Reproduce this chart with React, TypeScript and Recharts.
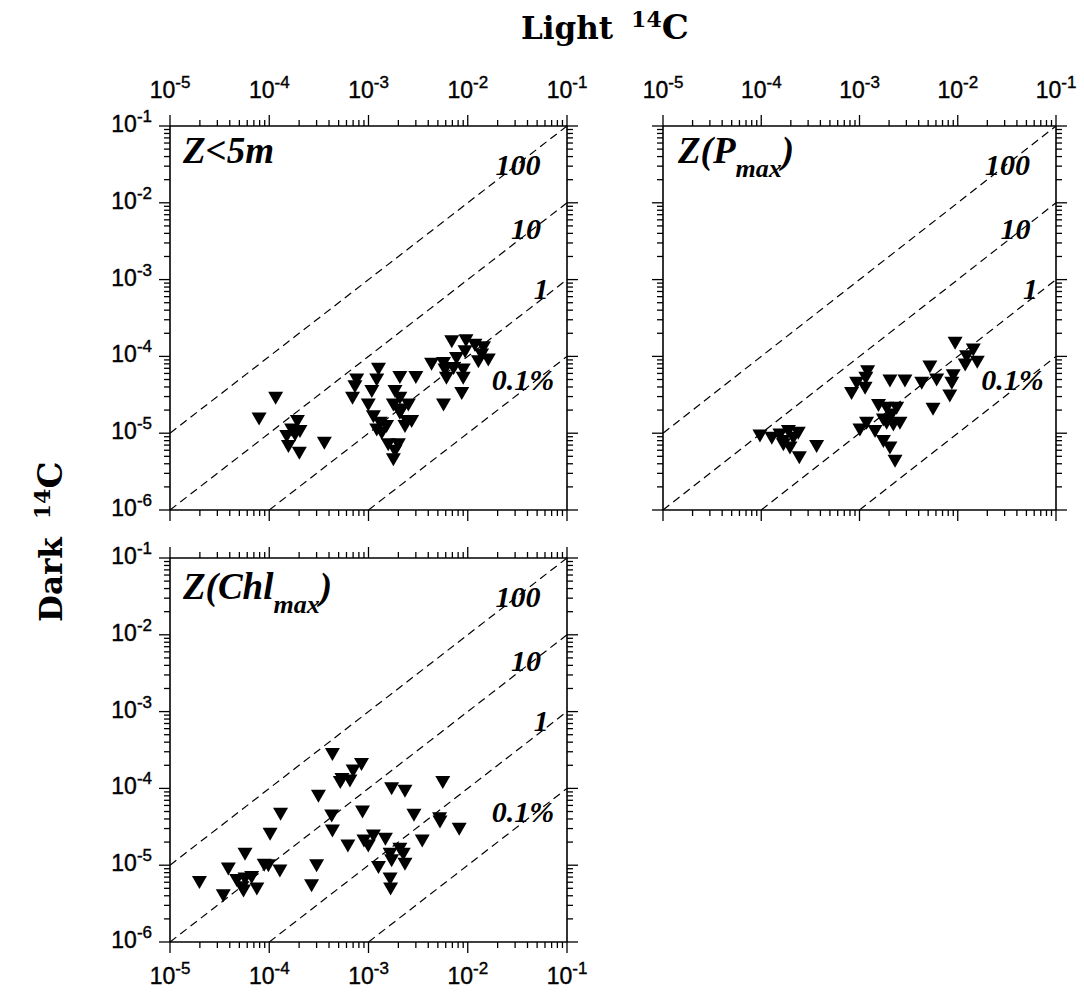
import React from 'react';
import { ScatterChart, Scatter, XAxis, YAxis, ReferenceLine, ReferenceDot } from 'recharts';

// Z<5m : light vs dark 14C uptake
const surfLight = [
  1.16e-4, 7.9e-5, 1.92e-4, 1.68e-4, 2.04e-4, 1.5e-4, 1.56e-4, 2.01e-4, 3.59e-4, 1.82e-4,
  7.6e-4, 7.3e-4, 1.26e-3, 1.21e-3, 2.07e-3, 3.0e-3, 6.9e-4, 1.08e-3, 9.95e-4, 1.85e-3,
  2.07e-3, 1.78e-3, 2.52e-3, 1.12e-3, 1.31e-3, 1.52e-3, 1.21e-3, 2.07e-3, 2.43e-3, 2.72e-3,
  2.33e-3, 1.36e-3, 1.58e-3, 2.0e-3, 1.78e-3, 1.85e-3, 2.16e-3, 4.32e-3, 5.7e-3, 6.9e-3,
  9.6e-3, 1.18e-2, 1.44e-2, 1.38e-2, 9.4e-3, 7.7e-3, 1.61e-2, 1.28e-2, 5.9e-3, 6.1e-3,
  9.0e-3, 9.0e-3, 8.7e-3, 5.7e-3, 7.2e-3,
];
const surfDark = [
  2.85e-5, 1.53e-5, 1.42e-5, 1.1e-5, 1.05e-5, 9.05e-6, 6.7e-6, 5.5e-6, 7.4e-6, 9.5e-6,
  4.93e-5, 4.04e-5, 6.8e-5, 4.93e-5, 5.3e-5, 5.3e-5, 2.85e-5, 3.48e-5, 2.33e-5, 3.48e-5,
  2.85e-5, 2.33e-5, 2.33e-5, 1.64e-5, 1.35e-5, 1.22e-5, 1.1e-5, 1.82e-5, 1.42e-5, 1.42e-5,
  1.22e-5, 1.0e-5, 7.05e-6, 7.05e-6, 4.5e-6, 5.8e-6, 2.01e-5, 7.9e-5, 8.1e-5, 1.55e-4,
  1.6e-4, 1.4e-4, 1.3e-4, 1.04e-4, 1.15e-4, 9.4e-5, 8.95e-5, 8.5e-5, 6.65e-5, 5.2e-5,
  6.65e-5, 5.2e-5, 3.3e-5, 2.33e-5, 6.98e-5,
];

// Z(Pmax)
const pmaxLight = [
  9.7e-5, 1.28e-4, 1.65e-4, 1.89e-4, 2.38e-4, 1.68e-4, 1.96e-4, 1.55e-4, 3.66e-4, 2.44e-4,
  2.12e-4, 1.21e-3, 1.16e-3, 9.35e-4, 1.14e-3, 8.3e-4, 2.04e-3, 2.9e-3, 4.3e-3, 5.2e-3,
  6.1e-3, 9.0e-3, 8.7e-3, 8.3e-3, 5.6e-3, 9.4e-3, 1.44e-2, 1.23e-2, 1.19e-2, 1.58e-2,
  1.56e-3, 1.89e-3, 2.39e-3, 2.12e-3, 1.75e-3, 2.58e-3, 2.21e-3, 1.18e-3, 1.01e-3, 1.44e-3,
  1.75e-3, 2.04e-3, 2.3e-3, 1.89e-3,
];
const pmaxDark = [
  9.2e-6, 8.6e-6, 7.8e-6, 1.05e-5, 1.0e-5, 7.05e-6, 6.4e-6, 9.5e-6, 6.7e-6, 4.8e-6,
  8.6e-6, 6.3e-5, 5.2e-5, 4.46e-5, 3.84e-5, 3.3e-5, 4.79e-5, 4.79e-5, 4.46e-5, 7.3e-5,
  4.93e-5, 5.6e-5, 4.46e-5, 3.05e-5, 2.05e-5, 1.48e-4, 1.21e-4, 9.9e-5, 7.7e-5, 8.4e-5,
  2.29e-5, 2.11e-5, 2.11e-5, 1.73e-5, 1.49e-5, 1.35e-5, 1.28e-5, 1.35e-5, 1.1e-5, 1.05e-5,
  7.8e-6, 6.4e-6, 4.3e-6, 1.35e-5,
];

// Z(Chlmax)
const chlLight = [
  4.33e-4, 8.5e-4, 7.0e-4, 5.4e-4, 6.5e-4, 5.2e-4, 3.13e-4, 1.71e-3, 2.33e-3, 5.6e-3,
  1.3e-4, 4.26e-4, 8.7e-4, 2.87e-3, 5.2e-3, 5.25e-3, 1.02e-4, 4.33e-4, 6.2e-4, 9.0e-4,
  1.12e-3, 1.48e-3, 9.95e-4, 3.48e-3, 8.2e-3, 5.7e-5, 3.87e-5, 8.9e-5, 9.8e-5, 1.28e-4,
  3.0e-4, 1.98e-5, 3.44e-5, 4.7e-5, 5.7e-5, 6.65e-5, 5.3e-5, 5.5e-5, 7.5e-5, 2.67e-4,
  1.65e-3, 2.07e-3, 2.24e-3, 1.71e-3, 2.33e-3, 1.26e-3, 1.65e-3, 1.67e-3,
];
const chlDark = [
  2.77e-4, 2.05e-4, 1.68e-4, 1.31e-4, 1.25e-4, 1.19e-4, 7.9e-5, 9.9e-5, 9.2e-5, 1.19e-4,
  4.6e-5, 4.37e-5, 4.93e-5, 4.46e-5, 4.04e-5, 3.65e-5, 2.53e-5, 2.79e-5, 1.78e-5, 2.07e-5,
  2.4e-5, 2.18e-5, 1.78e-5, 2.07e-5, 2.94e-5, 1.39e-5, 8.9e-6, 1.0e-5, 9.8e-6, 8.4e-6,
  9.8e-6, 5.96e-6, 4.0e-6, 6.3e-6, 6.6e-6, 6.9e-6, 5.1e-6, 4.6e-6, 4.9e-6, 5.4e-6,
  1.39e-5, 1.61e-5, 1.39e-5, 1.14e-5, 1.03e-5, 9.3e-6, 6.6e-6, 4.9e-6,
];

// dark/light ratio lines (%), and where their labels sit
const ratioPct = [100, 10, 1, 0.1];
const ratioText = ['100', '10', '1', '0.1%'];
const ratioLabelLight = [3.2e-2, 3.86e-2, 5.5e-2, 3.6e-2];
const ratioLabelDark = [3.1e-2, 4.6e-3, 7.6e-4, 4.9e-5];

const xMajor = [1e-5, 1e-4, 1e-3, 1e-2, 1e-1];
const yMajor = [1e-6, 1e-5, 1e-4, 1e-3, 1e-2, 1e-1];

const withMinors = (majors: number[]) => {
  const out: number[] = [];
  majors.forEach((m, i) => {
    out.push(m);
    if (i < majors.length - 1) for (let k = 2; k <= 9; k++) out.push(m * k);
  });
  return out;
};
const xTicks = withMinors(xMajor);
const yTicks = withMinors(yMajor);
const xDomain = [xMajor[0], xMajor[xMajor.length - 1]];
const yDomain = [yMajor[0], yMajor[yMajor.length - 1]];

const ML = 80, MT = 60, MR = 30, MB = 60;
const PLOT_H = 384;
const SANS = '"Liberation Sans", Arial, Helvetica, sans-serif';
const SERIF = '"Liberation Serif", "Times New Roman", serif';
const WIDE_SERIF = '"DejaVu Serif", serif';

const PowLabel = ({ v, ...rest }: any) => {
  const e = Math.round(Math.log10(v));
  return (
    <text fontFamily={SANS} fontSize={23} fill="#000" stroke="#000" strokeWidth={0.4} {...rest}>
      10<tspan dy={-10} fontSize={17}>{e}</tspan>
    </text>
  );
};

const makeTick = (side: string, showLabel: boolean) => (props: any) => {
  const { x, y, payload } = props;
  const v = payload.value;
  const e = Math.log10(v);
  const major = Math.abs(e - Math.round(e)) < 1e-6;
  const len = major ? 11 : 6;
  let line = null;
  let label = null;
  if (side === 'top') {
    line = <line x1={x} y1={y} x2={x} y2={y - len} />;
    if (showLabel && major) label = <PowLabel v={v} x={x} y={y - 28} textAnchor="middle" />;
  } else if (side === 'bottom') {
    line = <line x1={x} y1={y} x2={x} y2={y + len} />;
    if (showLabel && major) label = <PowLabel v={v} x={x} y={y + 42} textAnchor="middle" />;
  } else if (side === 'left') {
    line = <line x1={x} y1={y} x2={x - len} y2={y} />;
    if (showLabel && major) label = <PowLabel v={v} x={x - 18} y={y + 6} textAnchor="end" />;
  } else {
    line = <line x1={x} y1={y} x2={x + len} y2={y} />;
  }
  return (
    <g>
      <g stroke="#000" strokeWidth={1.3}>{line}</g>
      {label}
    </g>
  );
};

const DownTriangle = (props: any) => {
  const { cx, cy } = props;
  if (cx == null || cy == null) return null;
  return <path d={`M${cx - 7.5},${cy - 6.5}L${cx + 7.5},${cy - 6.5}L${cx},${cy + 6.5}Z`} fill="#000" />;
};

const axisLine = { stroke: '#000', strokeWidth: 1.6 };

type PanelProps = {
  left: number;
  top: number;
  width: number;
  light: number[];
  dark: number[];
  xLabelSide: 'top' | 'bottom';
  yLabels: boolean;
};

function Panel({ left, top, width, light, dark, xLabelSide, yLabels }: PanelProps) {
  const data = light.map((x, i) => ({ x, y: dark[i] }));
  const common = {
    type: 'number' as const,
    scale: 'log' as const,
    allowDataOverflow: true,
    interval: 0 as const,
    tickSize: 0,
    tickMargin: 0,
    tickLine: false,
    axisLine,
  };
  // axes are 1px thick, so the margins are 1px smaller to keep the plot box in place
  return (
    <div style={{ position: 'absolute', left: left - ML, top: top - MT }}>
      <ScatterChart
        width={width + ML + MR}
        height={PLOT_H + MT + MB}
        margin={{ top: MT - 1, right: MR - 1, bottom: MB - 1, left: ML - 1 }}
      >
        <XAxis {...common} xAxisId="b" dataKey="x" domain={xDomain} ticks={xTicks} orientation="bottom" height={1}
          tick={makeTick('bottom', xLabelSide === 'bottom')} />
        <XAxis {...common} xAxisId="t" dataKey="x" domain={xDomain} ticks={xTicks} orientation="top" height={1}
          tick={makeTick('top', xLabelSide === 'top')} />
        <YAxis {...common} yAxisId="l" dataKey="y" domain={yDomain} ticks={yTicks} orientation="left" width={1}
          tick={makeTick('left', yLabels)} />
        <YAxis {...common} yAxisId="r" dataKey="y" domain={yDomain} ticks={yTicks} orientation="right" width={1}
          tick={makeTick('right', false)} />
        {ratioPct.map((p) => {
          const r = p / 100;
          const x0 = Math.max(xDomain[0], yDomain[0] / r);
          return (
            <ReferenceLine
              key={p}
              xAxisId="b"
              yAxisId="l"
              segment={[{ x: x0, y: x0 * r }, { x: xDomain[1], y: xDomain[1] * r }]}
              stroke="#000"
              strokeWidth={1.2}
              strokeDasharray="8 5"
              ifOverflow="visible"
            />
          );
        })}
        {ratioText.map((t, i) => (
          <ReferenceDot
            key={t}
            xAxisId="b"
            yAxisId="l"
            x={ratioLabelLight[i]}
            y={ratioLabelDark[i]}
            r={0}
            ifOverflow="visible"
            shape={(p: any) => (
              <text x={p.cx} y={p.cy + 10} textAnchor="middle" fontFamily={SERIF} fontStyle="italic"
                fontWeight="bold" fontSize={30} fill="#000">{t}</text>
            )}
          />
        ))}
        <Scatter xAxisId="b" yAxisId="l" data={data} shape={DownTriangle} isAnimationActive={false} />
      </ScatterChart>
    </div>
  );
}

export default function App() {
  const labelStyle = { fontFamily: SERIF, fontStyle: 'italic', fontWeight: 'bold' } as const;
  return (
    <div style={{ position: 'absolute', left: 0, top: 0, width: 1084, height: 995, background: '#fff', overflow: 'hidden' }}>
      <Panel left={170} top={126} width={397} light={surfLight} dark={surfDark} xLabelSide="top" yLabels />
      <Panel left={663} top={126} width={393} light={pmaxLight} dark={pmaxDark} xLabelSide="top" yLabels={false} />
      <Panel left={170} top={558} width={397} light={chlLight} dark={chlDark} xLabelSide="bottom" yLabels />
      <svg width={1084} height={995} style={{ position: 'absolute', left: 0, top: 0, pointerEvents: 'none' }}>
        <text x={521} y={39} fontFamily={WIDE_SERIF} fontWeight="bold" fontSize={31} fill="#000">
          Light<tspan dx={18} dy={-12} fontSize={22}>14</tspan><tspan dy={12} fontSize={34}>C</tspan>
        </text>
        <text transform="translate(62,622) rotate(-90)" fontFamily={WIDE_SERIF} fontWeight="bold" fontSize={31} fill="#000">
          Dark<tspan dx={18} dy={-12} fontSize={22}>14</tspan><tspan dy={12} fontSize={34}>C</tspan>
        </text>
        <text x={183} y={163} fontSize={37} {...labelStyle}>Z&lt;5m</text>
        <text x={678} y={163} fontSize={37} {...labelStyle}>
          Z(P<tspan dy={14} fontSize={26}>max</tspan><tspan dy={-14}>)</tspan>
        </text>
        <text x={183} y={599} fontSize={37} {...labelStyle}>
          Z(Chl<tspan dy={14} fontSize={26}>max</tspan><tspan dy={-14}>)</tspan>
        </text>
      </svg>
    </div>
  );
}
